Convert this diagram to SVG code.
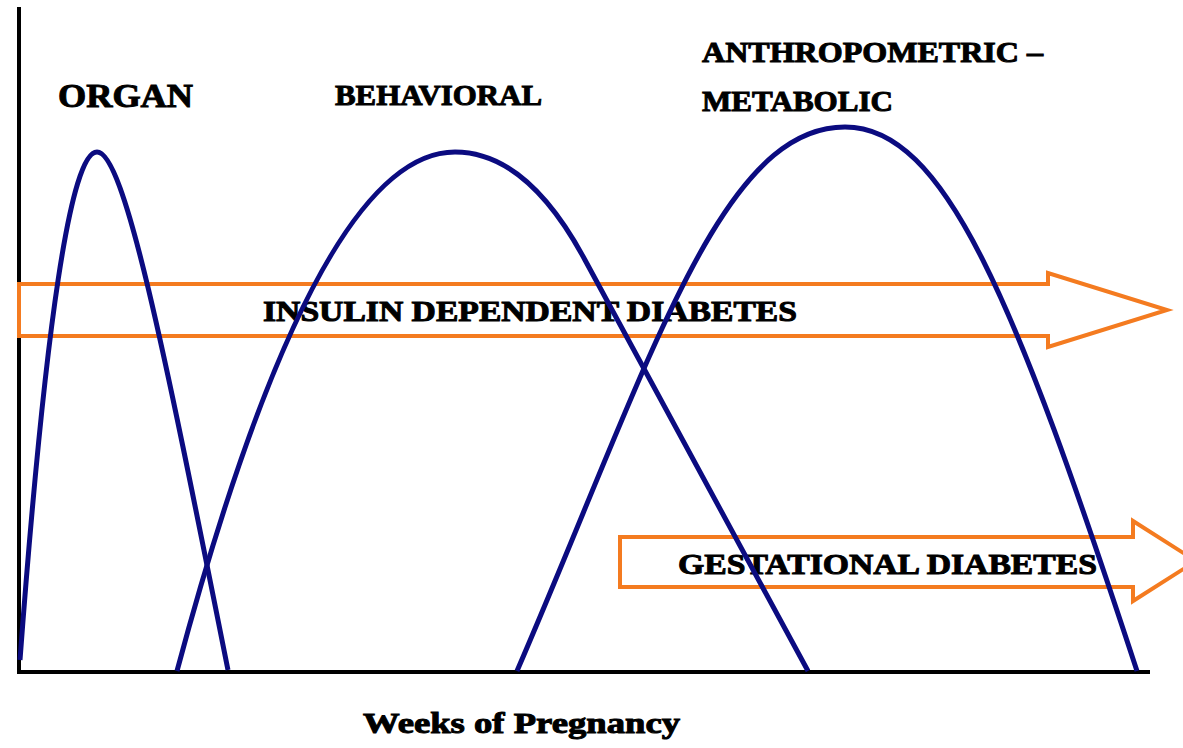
<svg xmlns="http://www.w3.org/2000/svg" width="1183" height="748" viewBox="0 0 1183 748">
<style>
.lbl{font-family:"Liberation Serif","Times New Roman",serif;font-weight:bold;fill:#000;stroke:#000;stroke-width:1}
.arrow{fill:none;stroke:#F47B20;stroke-width:4;stroke-linejoin:miter}
.curve{fill:none;stroke:#0B0B80;stroke-width:5;stroke-linecap:butt}
.axis{fill:none;stroke:#000;stroke-width:4}
</style>
<rect width="1183" height="748" fill="#fff"/>
<g id="axes">
<path class="axis" d="M19,7 V672 H1150"/>
</g>
<g id="arrow-insulin">
<polygon class="arrow" points="19,284 1048,284 1048,273 1167,310 1048,347 1048,336 19,336"/>
<text class="lbl" x="263" y="321" font-size="30" textLength="534" lengthAdjust="spacingAndGlyphs">INSULIN DEPENDENT DIABETES</text>
</g>
<g id="arrow-gestational">
<polygon class="arrow" points="620,537 1133,537 1133,521 1196,561 1133,601 1133,587 620,587"/>
<text class="lbl" x="678" y="574" font-size="30" textLength="419" lengthAdjust="spacingAndGlyphs">GESTATIONAL DIABETES</text>
</g>
<g id="label-organ">
<text class="lbl" x="58" y="107" font-size="34" textLength="135" lengthAdjust="spacingAndGlyphs">ORGAN</text>
</g>
<g id="label-behavioral">
<text class="lbl" x="335" y="105" font-size="30" textLength="207" lengthAdjust="spacingAndGlyphs">BEHAVIORAL</text>
</g>
<g id="label-anthropometric">
<text class="lbl" x="702" y="62" font-size="30" textLength="341" lengthAdjust="spacingAndGlyphs">ANTHROPOMETRIC –</text>
<text class="lbl" x="702" y="111" font-size="30" textLength="191" lengthAdjust="spacingAndGlyphs">METABOLIC</text>
</g>
<g id="label-xaxis">
<text class="lbl" x="363" y="733" font-size="30" textLength="317" lengthAdjust="spacingAndGlyphs">Weeks of Pregnancy</text>
</g>
<g id="connectors">
<path id="curve-organ" class="curve" d="M20,660 Q58,152 97,152 C125,152 166,360 228,670"/>
<path id="curve-behavioral" class="curve" d="M177,671 Q316,152 455,152 Q527,152 585,260 L808,671"/>
<path id="curve-anthropometric" class="curve" d="M517,671 C651,360 720,127 845,127 C945,127 1015,300 1137,671"/>
</g>
</svg>
